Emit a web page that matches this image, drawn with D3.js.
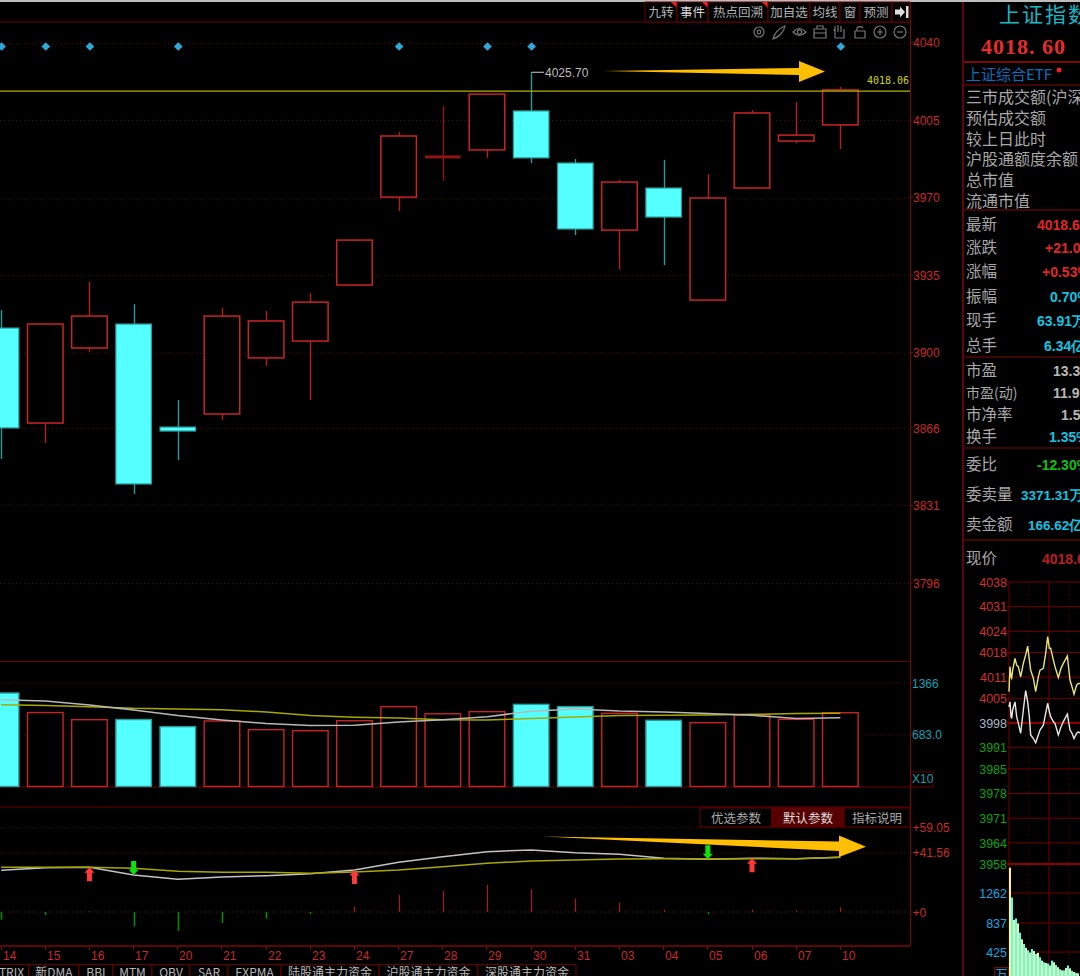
<!DOCTYPE html>
<html><head><meta charset="utf-8">
<script src="https://cdn.jsdelivr.net/npm/d3@7/dist/d3.min.js"></script>
<style>html,body{margin:0;padding:0;background:#000;overflow:hidden}svg{display:block}text{font-family:"Liberation Sans",Arial,sans-serif}text.cn{font-family:"Noto Sans CJK SC",sans-serif}</style>
</head><body><div id="c"></div>
<script>
const days=["14","15","16","17","20","21","22","23","24","27","28","29","30","31","03","04","05","06","07","10"];
const open=[3911.1,3868.2,3902.1,3912.9,3866.4,3872.3,3897.6,3905.2,3930.5,3970.2,3987.9,3991.5,4009.1,3985.6,3955.3,3974.3,3923.7,3974.3,3995.5,4002.8];
const close=[3866.0,3912.9,3916.5,3840.7,3864.6,3916.5,3914.3,3922.8,3950.8,3997.8,3988.8,4016.7,3987.9,3955.8,3977.0,3961.2,3969.8,4008.2,3998.2,4018.6];
const high=[3919.2,3912.9,3931.9,3921.9,3878.6,3920.1,3918.8,3926.9,3950.8,3999.6,4011.3,4016.7,4025.7,3987.4,3977.9,3987.0,3980.6,4009.5,4013.1,4020.0];
const low=[3852.0,3859.2,3900.3,3836.2,3851.5,3869.6,3894.0,3878.6,3930.1,3963.9,3977.5,3987.9,3985.6,3953.1,3937.7,3939.5,3923.7,3974.3,3994.6,3991.9];
const volume=[1234,976,882,884,790,864,750,736,868,1054,960,988,1084,1054,966,874,842,944,886,974];
const volMaWhite=[1146,1128,1076,1010,936,878,830,804,808,852,882,922,992,1024,996,984,962,940,896,908];
const volMaYellow=[1080,1068,1054,1032,1024,1014,984,936,914,904,882,878,896,918,936,940,944,952,962,966];
const indWhite=[29.2,31.1,31.3,26,22.9,24.6,25.5,26.9,29.5,34.9,38.8,42.3,43.5,41.6,40.5,37.7,37,37.7,37.4,38.4];
const indYellow=[31.3,31.3,31.3,30.6,28.5,27.8,27.8,27.1,28,29.5,31.8,34.2,35.8,36.5,37.2,37.4,37.2,37.4,37.4,38.4];
const indHist=[-5.4,-2.1,0.5,-10.2,-13.3,-7.7,-4.6,-1.4,4,12,14.7,19,16.1,9.4,6.5,1.6,-1.6,1.6,1,3.3];
const markerDays=["14","15","16","20","27","29","30","10"];
const upArrowDays=["16","24","06"];
const downArrowDays=["17","05"];
const priceTicks=[4040,4005,3970,3935,3900,3866,3831,3796];
const volTicks=[[1366,"1366"],[683,"683.0"]];
const indTicks=[[59.05,"+59.05"],[41.56,"+41.56"],[0,"+0"]];
const topTabs=["九转","事件","热点回溯","加自选","均线","窗","预测"];
const bottomTabs=["TRIX","新DMA","BBI","MTM","OBV","SAR","EXPMA","陆股通主力资金","沪股通主力资金","深股通主力资金"];
const sideLabels=["三市成交额(沪深","预估成交额","较上日此时","沪股通额度余额","总市值","流通市值"];
const quoteLabels=["最新","涨跌","涨幅","振幅","现手","总手","市盈","市盈(动)","市净率","换手","委比","委卖量","卖金额","现价"];
const quoteValues=["4018.60","+21.05","+0.53%","0.70%","63.91万","6.34亿","13.32","11.95","1.50","1.35%","-12.30%","3371.31万","166.62亿","4018.60"];
const intraMin=[0,3,6,8,11,18,23,28,35,43,50,56,61,65,73,80,88,93,103,110,116,121,125,133,138,148,156,163,175,183,189,195,203,208,213];
const intraYellow=[4006.9,4014,4011.1,4010.7,4013,4016.3,4014.4,4014,4011.1,4014.9,4017.3,4019.8,4015.9,4013,4010.7,4006.9,4011.1,4013,4013.5,4017.7,4022.5,4019.2,4019.2,4015.9,4014,4010.9,4013.5,4014.9,4017,4010.2,4008.3,4006.2,4008.8,4009.2,4009.2];
const intraWhite=[4002.6,4004,3999.8,3999.3,4001.7,4004,3999.8,3997.9,3995.1,4001.7,4007.2,4004,3999.8,3994.6,3993.6,3992.4,3994.6,3996,3997.4,4000.7,4003.6,4001.2,3999.8,3998.4,3997.9,3994.6,3996.9,3998.4,4000.5,3996,3995.1,3993.6,3995.1,3995.5,3995.1];
const intraTicks=[4038,4031,4024,4018,4011,4005,3998,3991,3985,3978,3971,3964,3958];
const intraVolTicks=[1262,837,425];
const intraVol=[1620,1197,880,900,830,700,605,540,485,450,417,468,440,399,413,350,303,279,270,261,234,303,279,240,210,180,165,165,200,234,193,160,142,130,124];

const W=1080,H=976;
const svg=d3.select("#c").append("svg").attr("width",W).attr("height",H).attr("viewBox",[0,0,W,H]);
svg.append("rect").attr("width",W).attr("height",H).attr("fill","#000");
const DR="#6b0000",GR="#7e0808",DOT="#5c0000",CY="#54ffff",TEAL="#2a9a9a",RS="#c92424";
const x=d3.scaleBand().domain(days).range([-20.97,862.43]).paddingInner(0.195).paddingOuter(0.0975);
const cx=d=>x(d)+x.bandwidth()/2;
const y=d3.scaleLinear().domain([4040,3796]).range([42.5,583]);
const yV=d3.scaleLinear().domain([0,1366]).range([786.5,683]);
const yI=d3.scaleLinear().domain([0,59.05]).range([912,827.8]);

function hline(g,yy,x1,x2,dash,col,w){g.append("line").attr("x1",x1).attr("x2",x2).attr("y1",yy).attr("y2",yy).attr("stroke",col).attr("stroke-width",w||1).attr("stroke-dasharray",dash||null);}
function vline(g,xx,y1,y2,col,w,dash){g.append("line").attr("x1",xx).attr("x2",xx).attr("y1",y1).attr("y2",y2).attr("stroke",col).attr("stroke-width",w||1).attr("stroke-dasharray",dash||null);}
const frame=svg.append("g");
svg.append("rect").attr("width",W).attr("height",2).attr("fill","#bdbdbd");
hline(frame,22,0,910,null,DR);
hline(frame,661.5,0,910,null,DR);
hline(frame,787,0,910,null,DR);
hline(frame,807,0,910,null,"#4a0000",1.5);
hline(frame,946,0,910,null,GR,1.3);
vline(frame,910.5,2,946,GR);
vline(frame,963,2,976,GR,1.5);
priceTicks.forEach(t=>hline(frame,Math.round(y(t))+.5,0,910,"1 3",DOT));
hline(frame,yV(1366),0,910,"1 3",DOT);hline(frame,yV(683),0,910,"1 3",DOT);
hline(frame,yI(59.05),0,910,"1 3",DOT);hline(frame,yI(41.56),0,910,"1 3",DOT);hline(frame,yI(0),0,910,"1 3",GR);

const axisTxt=(sel,xx,yy,t,col,size,anchor)=>sel.append("text").attr("x",xx).attr("y",yy+1.5).attr("fill",col).attr("font-size",size||12).attr("text-anchor",anchor||"start").attr("dominant-baseline","middle").text(t);
const pAxis=svg.append("g");
priceTicks.forEach(t=>{axisTxt(pAxis,913,y(t),t,"#c92a2a",12);pAxis.append("line").attr("x1",910).attr("x2",913).attr("y1",y(t)).attr("y2",y(t)).attr("stroke",GR);});
volTicks.forEach(([v,l])=>{axisTxt(pAxis,912,yV(v),l,"#12a3b5",12);pAxis.append("line").attr("x1",910).attr("x2",913).attr("y1",yV(v)).attr("y2",yV(v)).attr("stroke",GR);});
pAxis.append("rect").attr("x",911).attr("y",772).attr("width",22).attr("height",15).attr("fill","#000").attr("stroke",DR);
axisTxt(pAxis,912,778.5,"X10","#12a3b5",12);
indTicks.forEach(([v,l])=>axisTxt(pAxis,912.6,yI(v),l,"#c92a2a",12));

// candles
const cg=svg.append("g");
days.forEach((d,i)=>{
  const up=close[i]>=open[i], cxx=Math.round(cx(d))+.5;
  const t=y(Math.max(open[i],close[i])), b=y(Math.min(open[i],close[i]));
  const dark=d=="28";
  const wick=dark?"#8f1414":up?"#b32020":TEAL;
  vline(cg,cxx,y(high[i]),t,wick,1.4);
  vline(cg,cxx,b,y(low[i]),wick,1.4);
  if(dark) cg.append("rect").attr("x",x(d)).attr("y",t-.5).attr("width",x.bandwidth()).attr("height",Math.max(b-t,3)).attr("fill","#8f1414");
  else if(up) cg.append("rect").attr("x",x(d)).attr("y",t).attr("width",x.bandwidth()).attr("height",b-t).attr("fill","#000").attr("stroke",RS).attr("stroke-width",1.5);
  else cg.append("rect").attr("x",x(d)).attr("y",t).attr("width",x.bandwidth()).attr("height",Math.max(b-t,2)).attr("fill",CY).attr("stroke",TEAL).attr("stroke-width",1.2);
});
hline(svg,y(4018.06),0,910,null,"#b5b200",1.3);
svg.append("text").attr("x",867).attr("y",84).attr("fill","#d5d500").attr("font-size",10).style("font-family","'DejaVu Sans Mono',monospace").text("4018.06");
const hx=Math.round(cx("30"))+.5;
vline(svg,hx,y(4025.7),72,TEAL,1.4);
hline(svg,72.3,hx,544,null,"#aaa",1.2);
svg.append("text").attr("x",545).attr("y",76.5).attr("fill","#bdbdbd").attr("font-size",12).text("4025.70");
svg.append("g").selectAll("path").data(markerDays).join("path").attr("transform",d=>`translate(${cx(d)+.5},46.5)`).attr("d",d3.symbol(d3.symbolDiamond2,48)).attr("fill","#2fa8d8");

// volume
const vg=svg.append("g");
days.forEach((d,i)=>{
  const isCy=["14","17","20","30","31","04"].includes(d);
  vg.append("rect").attr("x",x(d)).attr("y",yV(volume[i])).attr("width",x.bandwidth()).attr("height",yV(0)-yV(volume[i])).attr("fill",isCy?CY:"#000").attr("stroke",isCy?TEAL:RS).attr("stroke-width",1.4);
});
const lineV=arr=>d3.line().x((d,i)=>cx(days[i])).y(d=>yV(d))(arr);
svg.append("path").attr("d",lineV(volMaYellow)).attr("fill","none").attr("stroke","#a9a800").attr("stroke-width",1.5);
svg.append("path").attr("d",lineV(volMaWhite)).attr("fill","none").attr("stroke","#b8b8b8").attr("stroke-width",1.5);

// indicator
const ig=svg.append("g");
days.forEach((d,i)=>vline(ig,Math.round(cx(d))+.5,yI(0),yI(indHist[i]),indHist[i]>=0?"#a81c1c":"#0a8a0a",indHist[i]>=0?1.2:1.6));
const lineI=arr=>d3.line().x((d,i)=>cx(days[i])).y(d=>yI(d))(arr);
svg.append("path").attr("d",lineI(indWhite)).attr("fill","none").attr("stroke","#c4c4c4").attr("stroke-width",1.5);
svg.append("path").attr("d",lineI(indYellow)).attr("fill","none").attr("stroke","#a9a800").attr("stroke-width",1.5);
const arrow="M0,-7L5,-1.5L2.5,-1.5L2.5,7L-2.5,7L-2.5,-1.5L-5,-1.5Z";
svg.append("g").selectAll("path").data(upArrowDays).join("path").attr("transform",d=>{const i=days.indexOf(d);return `translate(${cx(d)},${yI(indWhite[i])+7})`;}).attr("d",arrow).attr("fill","#ff3838");
svg.append("g").selectAll("path").data(downArrowDays).join("path").attr("transform",d=>{const i=days.indexOf(d);return `translate(${cx(d)},${yI(indWhite[i])-7}) rotate(180)`;}).attr("d",arrow).attr("fill","#0fe00f");

[["优选参数",700,72,"#000","#aaa"],["默认参数",772,72,"#560000","#ddd"],["指标说明",844,66,"#000","#aaa"]].forEach(([t,xx,w,f,c])=>{
  svg.append("rect").attr("x",xx).attr("y",808).attr("width",w).attr("height",19).attr("fill",f).attr("stroke",DR);
  svg.append("text").attr("class","cn").attr("x",xx+w/2).attr("y",822.5).attr("text-anchor","middle").attr("fill",c).attr("font-size",12.5).text(t);
});

days.forEach(d=>{
  const xx=Math.round(cx(d)-.5)+.5;
  vline(svg,xx,946,950,GR);
  svg.append("text").attr("x",xx+1.5).attr("y",957).attr("fill","#c92a2a").attr("font-size",12).attr("dominant-baseline","middle").text(d);
});

const ga=d3.line();
svg.append("path").attr("fill","#ffbe00").attr("d",ga([[603,71],[799,68],[799,61],[825,71.5],[799,82],[799,75]])+"Z");
svg.append("path").attr("fill","#ffbe00").attr("d",ga([[543,836.5],[839,841.5],[839,835.5],[866,846.7],[839,857],[839,851]])+"Z");

let tx=[[645,32],[677,31],[708,60],[768,42],[810,30],[840,20],[860,32]];
topTabs.forEach((t,i)=>{
  const [a,w]=tx[i];
  svg.append("rect").attr("x",a).attr("y",2).attr("width",w).attr("height",20).attr("fill","#000").attr("stroke",DR);
  svg.append("text").attr("class","cn").attr("x",a+w/2).attr("y",17).attr("text-anchor","middle").attr("fill",i==1?"#d8d8d8":"#b4b4b4").attr("font-size",12.5).text(t);
  if(i<3)svg.append("path").attr("d",d3.line()([[a+w-6,2],[a+w,2],[a+w,8]])+"Z").attr("fill","#f02020");
});
svg.append("rect").attr("x",892).attr("y",2).attr("width",18).attr("height",20).attr("fill","#000").attr("stroke",DR);
svg.append("path").attr("d","M895,9.5h5v-3l5,5.5l-5,5.5v-3h-5ZM906,6h2.5v12h-2.5Z").attr("fill","#ddd");
const ic=svg.append("g").attr("fill","none").attr("stroke","#777").attr("stroke-width",1.2);
ic.append("circle").attr("cx",759).attr("cy",32).attr("r",5);ic.append("circle").attr("cx",759).attr("cy",32).attr("r",1.8);
ic.append("path").attr("d","M773,39C775,31 780,28 785,26C784,32 779,37 773,39Z");
ic.append("path").attr("d","M793,32Q799.5,25 806,32Q799.5,39 793,32Z");ic.append("circle").attr("cx",799.5).attr("cy",32).attr("r",2.2);
ic.append("path").attr("d","M814,29h12v9h-12ZM817,29v-3h6v3M814,33h12");
ic.append("path").attr("d","M835,38v-6l-1,-3M835,32v-6M838,32v-7M841,32v-6M844,33v-4M835,38h9v-5");
ic.append("path").attr("d","M855,31h10v7h-10ZM857,31v-3q3,-3 6,0");
ic.append("circle").attr("cx",880).attr("cy",32).attr("r",6);ic.append("path").attr("d","M877,32h6M880,29v6");
ic.append("circle").attr("cx",900).attr("cy",32).attr("r",6);ic.append("path").attr("d","M897,32h6");

let bx=[[-6,35],[29,50],[79,34],[113,39],[152,38],[190,38],[228,53],[281,98],[379,99],[478,98]];
bottomTabs.forEach((t,i)=>{
  const [a,w]=bx[i];
  svg.append("rect").attr("x",a).attr("y",964.5).attr("width",w).attr("height",17).attr("fill","#000").attr("stroke",DR);
  svg.append("text").attr("class","cn").attr("x",a+w/2).attr("y",977).attr("text-anchor","middle").attr("fill","#b8b8b8").attr("font-size",12).text(t);
});

// right panel
const side=svg.append("g");
side.append("text").attr("class","cn").attr("x",999).attr("y",22).attr("fill","#18b8c8").attr("font-size",21).attr("letter-spacing",2).text("上证指数");
side.append("text").attr("x",981).attr("y",54).attr("fill","#e62c2c").attr("font-size",22).attr("font-weight","bold").style("font-family","'Liberation Serif',serif").attr("letter-spacing",1).text("4018. 60");
[62,85,210,357,448,540].forEach(yy=>hline(side,yy,964,1080,null,GR,yy==62?2:1));
side.append("text").attr("class","cn").attr("x",966).attr("y",80).attr("fill","#0a6fbf").attr("font-size",15).text("上证综合ETF");
side.append("circle").attr("cx",1059).attr("cy",70).attr("r",2.5).attr("fill","#f02020");
sideLabels.forEach((t,i)=>side.append("text").attr("class","cn").attr("x",966).attr("y",103+i*20.8).attr("fill","#a8a8a8").attr("font-size",16).text(t));
const qy=[225,248,272,297,321,346,371,393,415,437,465,495,525,559];
const qc=["#e02828","#e02828","#e02828","#14c4e0","#14c4e0","#14c4e0","#b8b8b8","#b8b8b8","#b8b8b8","#14c4e0","#10c010","#14c4e0","#14c4e0","#b82020"];
const qx=[1037,1045,1042,1050,1037,1044,1053,1053,1061,1049,1037,1021,1028,1042];
quoteLabels.forEach((t,i)=>{
  side.append("text").attr("class","cn").attr("x",966).attr("y",qy[i]+1).attr("dominant-baseline","middle").attr("fill","#a8a8a8").attr("font-size",i==7?14:15.5).text(t);
});
quoteValues.forEach((t,i)=>{
  side.append("text").attr("x",qx[i]).attr("y",qy[i]+1).attr("dominant-baseline","middle").attr("fill",qc[i]).attr("font-size",i==11||i==12?13.5:14).attr("font-weight","bold").text(t);
});

// intraday
const mx=d3.scaleLinear().domain([0,240]).range([1009,1089]);
const my=d3.scaleLinear().domain([4038,3958]).range([582,864]);
const ia=svg.append("g");
intraTicks.forEach(t=>{
  const c=t>3998?"#d23030":t==3998?"#a8b8c8":"#0ea00e";
  hline(ia,my(t),1007,1080,null,t==3998||t==3958?"#8f0000":"#720000",t==3998||t==3958?2:1);
  axisTxt(ia,1007,my(t),t,c,12.5,"end");
});
[0,60,120,180].forEach((m,i)=>vline(ia,mx(m),582,976,i%2==0?"#720000":"#5c0000",1,i%2==0?null:"1 3"));
const intraV=d3.scaleLinear().domain([0,1262]).range([982,893]);
intraVolTicks.forEach(t=>{hline(ia,intraV(t),1007,1080,null,"#720000");axisTxt(ia,1007,intraV(t),t,"#18a8e0",12.5,"end");});
intraVol.forEach((v,i)=>ia.append("rect").attr("x",mx(i*6)).attr("y",intraV(v)).attr("width",2).attr("height",982-intraV(v)).attr("fill",i%2?"#54ffff":"#f5f58a"));
const lineM=(arr)=>d3.line().x((d,i)=>mx(intraMin[i])).y(d=>my(d))(arr);
ia.append("path").attr("d",lineM(intraYellow)).attr("fill","none").attr("stroke","#e6e678").attr("stroke-width",1.4);
ia.append("path").attr("d",lineM(intraWhite)).attr("fill","none").attr("stroke","#e8e8e8").attr("stroke-width",1.4);
ia.append("rect").attr("x",994.5).attr("y",967.5).attr("width",14).attr("height",14).attr("fill","#000").attr("stroke",GR);
ia.append("text").attr("class","cn").attr("x",995.5).attr("y",979).attr("fill","#18a8e0").attr("font-size",12).text("万");
</script></body></html>
